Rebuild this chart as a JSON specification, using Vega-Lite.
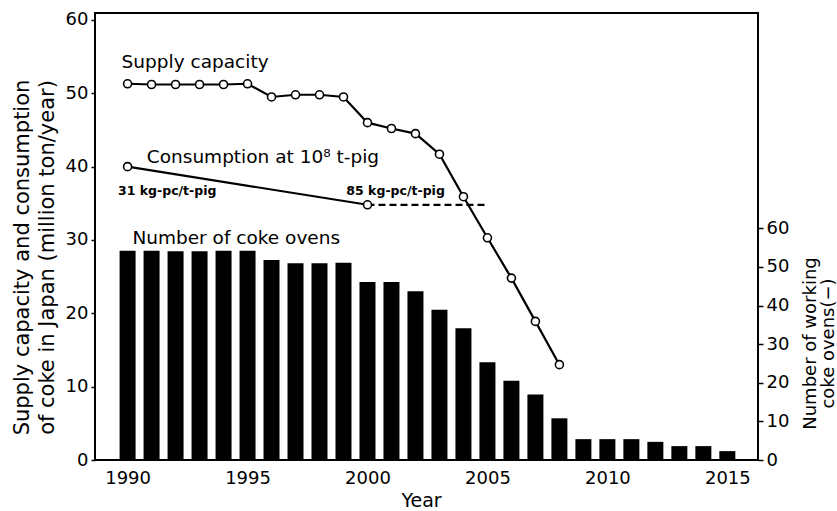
{
  "$schema": "https://vega.github.io/schema/vega-lite/v6.json",
  "width": 663,
  "height": 447,
  "autosize": {"type": "none"},
  "padding": {"left": 95, "top": 13, "right": 79, "bottom": 51},
  "background": "white",
  "config": {
    "view": {"stroke": "black", "strokeWidth": 2},
    "font": "DejaVu Sans",
    "axis": {
      "domain": false,
      "grid": false,
      "tickColor": "black",
      "tickWidth": 1.5,
      "labelColor": "black",
      "titleColor": "black",
      "labelFont": "DejaVu Sans",
      "titleFont": "DejaVu Sans",
      "titleFontWeight": "normal"
    }
  },
  "datasets": {
    "ovens": [
      {"year": 1990, "ovens": 54.2}, {"year": 1991, "ovens": 54.2}, {"year": 1992, "ovens": 54.1},
      {"year": 1993, "ovens": 54.1}, {"year": 1994, "ovens": 54.2}, {"year": 1995, "ovens": 54.2},
      {"year": 1996, "ovens": 51.8}, {"year": 1997, "ovens": 51.0}, {"year": 1998, "ovens": 51.0},
      {"year": 1999, "ovens": 51.1}, {"year": 2000, "ovens": 46.1}, {"year": 2001, "ovens": 46.1},
      {"year": 2002, "ovens": 43.7}, {"year": 2003, "ovens": 38.9}, {"year": 2004, "ovens": 34.1},
      {"year": 2005, "ovens": 25.3}, {"year": 2006, "ovens": 20.5}, {"year": 2007, "ovens": 17.0},
      {"year": 2008, "ovens": 10.8}, {"year": 2009, "ovens": 5.4}, {"year": 2010, "ovens": 5.4},
      {"year": 2011, "ovens": 5.4}, {"year": 2012, "ovens": 4.7}, {"year": 2013, "ovens": 3.6},
      {"year": 2014, "ovens": 3.6}, {"year": 2015, "ovens": 2.3}
    ],
    "supply": [
      {"year": 1990, "value": 51.3}, {"year": 1991, "value": 51.2}, {"year": 1992, "value": 51.2},
      {"year": 1993, "value": 51.2}, {"year": 1994, "value": 51.2}, {"year": 1995, "value": 51.3},
      {"year": 1996, "value": 49.5}, {"year": 1997, "value": 49.8}, {"year": 1998, "value": 49.8},
      {"year": 1999, "value": 49.5}, {"year": 2000, "value": 46.0}, {"year": 2001, "value": 45.2},
      {"year": 2002, "value": 44.5}, {"year": 2003, "value": 41.7}, {"year": 2004, "value": 35.9},
      {"year": 2005, "value": 30.3}, {"year": 2006, "value": 24.8}, {"year": 2007, "value": 18.9},
      {"year": 2008, "value": 13.0}
    ],
    "consumption": [
      {"year": 1990, "value": 40.0}, {"year": 2000, "value": 34.8}
    ],
    "projection": [
      {"year": 2000, "value": 34.8}, {"year": 2005, "value": 34.8}
    ],
    "bigLabels": [
      {"year": 1989.75, "value": 53.45, "text": "Supply capacity"},
      {"year": 1990.8, "value": 40.45, "text": "Consumption at 10⁸ t-pig"},
      {"year": 1990.2, "value": 29.4, "text": "Number of coke ovens"}
    ],
    "smallLabels": [
      {"year": 1989.6, "value": 36.1, "text": "31 kg-pc/t-pig"},
      {"year": 1999.12, "value": 36.1, "text": "85 kg-pc/t-pig"}
    ]
  },
  "layer": [
    {
      "data": {"name": "ovens"},
      "mark": {"type": "bar", "color": "black", "size": 16},
      "encoding": {
        "x": {
          "field": "year", "type": "quantitative",
          "scale": {"domain": [1988.85, 2016.07], "nice": false, "zero": false},
          "axis": {
            "values": [1990, 1995, 2000, 2005, 2010, 2015],
            "format": "d", "title": "Year", "titleFontSize": 19, "labelFontSize": 18,
            "ticks": false, "tickSize": 0, "labelPadding": 9, "labelFlush": false,
            "titleX": 326, "titleY": 31, "titleBaseline": "top", "titleAlign": "center"
          }
        },
        "y": {
          "field": "ovens", "type": "quantitative",
          "scale": {"domain": [0, 115.8], "nice": false},
          "axis": {
            "orient": "right", "values": [0, 10, 20, 30, 40, 50, 60],
            "title": ["Number of working", "coke ovens(−)"],
            "titleFontSize": 18, "titleLineHeight": 18, "titleAngle": 270,
            "titleAlign": "center", "titleBaseline": "top", "titleX": 43, "titleY": 330,
            "labelFontSize": 18, "tickSize": 5, "labelPadding": 3
          }
        }
      }
    },
    {
      "layer": [
        {
          "data": {"name": "projection"},
          "mark": {"type": "line", "color": "black", "strokeWidth": 2.2, "strokeDash": [7, 4]},
          "encoding": {
            "x": {"field": "year", "type": "quantitative", "title": "Year"},
            "y": {
              "field": "value", "type": "quantitative",
              "title": ["Supply capacity and consumption", "of coke in Japan (million ton/year)"],
              "scale": {"domain": [0, 60.95], "nice": false},
              "axis": {
                "orient": "left", "values": [0, 10, 20, 30, 40, 50, 60],
                "titleFontSize": 21, "titleLineHeight": 25, "titleAngle": 270,
                "titleAlign": "center", "titleBaseline": "top", "titleX": -84, "titleY": 244,
                "labelFontSize": 18, "tickSize": 4, "labelPadding": 3
              }
            }
          }
        },
        {
          "data": {"name": "consumption"},
          "mark": {"type": "line", "color": "black", "strokeWidth": 2.2,
                   "point": {"filled": true, "fill": "white", "stroke": "black", "strokeWidth": 1.6, "size": 64}},
          "encoding": {
            "x": {"field": "year", "type": "quantitative", "title": "Year"},
            "y": {"field": "value", "type": "quantitative", "title": ["Supply capacity and consumption", "of coke in Japan (million ton/year)"]}
          }
        },
        {
          "data": {"name": "supply"},
          "mark": {"type": "line", "color": "black", "strokeWidth": 2.2,
                   "point": {"filled": true, "fill": "white", "stroke": "black", "strokeWidth": 1.6, "size": 64}},
          "encoding": {
            "x": {"field": "year", "type": "quantitative", "title": "Year"},
            "y": {"field": "value", "type": "quantitative", "title": ["Supply capacity and consumption", "of coke in Japan (million ton/year)"]}
          }
        },
        {
          "data": {"name": "bigLabels"},
          "mark": {"type": "text", "align": "left", "baseline": "alphabetic", "fontSize": 18.5, "font": "DejaVu Sans", "color": "black"},
          "encoding": {
            "x": {"field": "year", "type": "quantitative", "title": "Year"},
            "y": {"field": "value", "type": "quantitative", "title": ["Supply capacity and consumption", "of coke in Japan (million ton/year)"]},
            "text": {"field": "text"}
          }
        },
        {
          "data": {"name": "smallLabels"},
          "mark": {"type": "text", "align": "left", "baseline": "alphabetic", "fontSize": 12.5, "fontWeight": "bold", "font": "DejaVu Sans", "color": "black"},
          "encoding": {
            "x": {"field": "year", "type": "quantitative", "title": "Year"},
            "y": {"field": "value", "type": "quantitative", "title": ["Supply capacity and consumption", "of coke in Japan (million ton/year)"]},
            "text": {"field": "text"}
          }
        }
      ]
    }
  ],
  "resolve": {"scale": {"y": "independent"}}
}
